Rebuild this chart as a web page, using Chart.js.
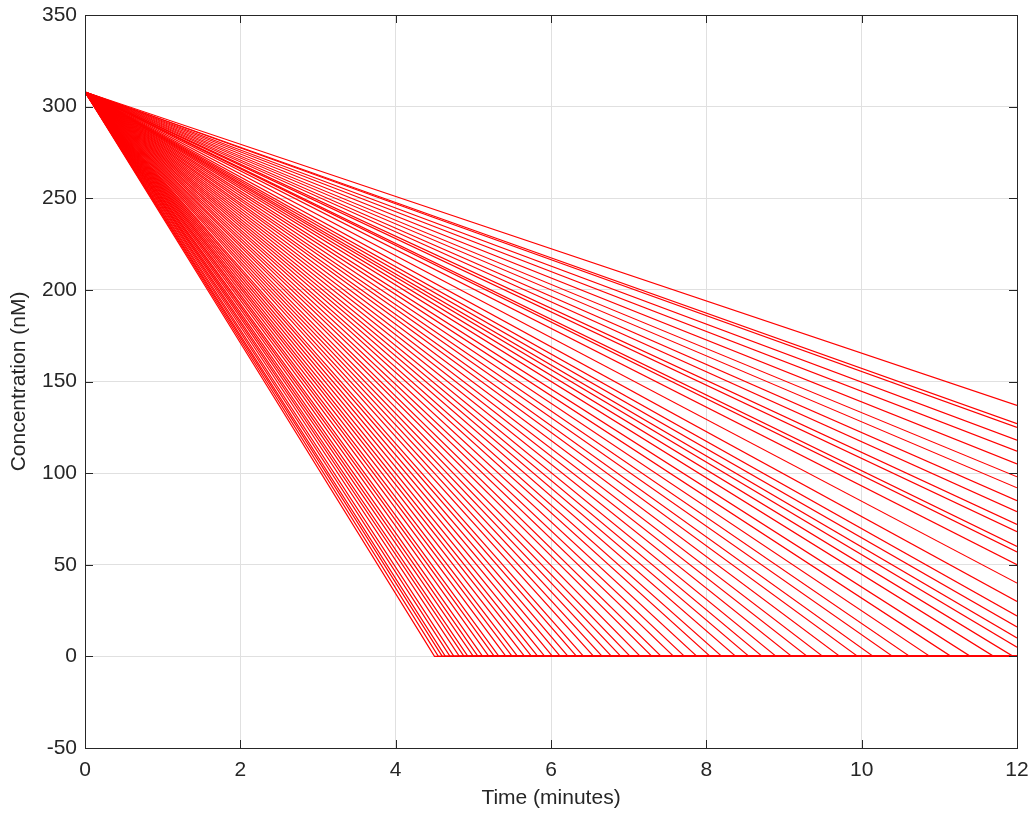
<!DOCTYPE html>
<html>
<head>
<meta charset="utf-8">
<script src="https://cdn.jsdelivr.net/npm/chart.js@4.4.1/dist/chart.umd.min.js"></script>
<style>
    html, body { margin: 0; padding: 0; background: #fff; }
    #wrap { width: 1032px; height: 819px; }
</style>
</head>
<body>
<div id="wrap"><canvas id="concChart" width="1032" height="819"></canvas></div>
<script>
// Starting concentration (nM) shared by every curve
const startConc = 308;
const endTime = 12;

// Curves that reach zero before 12 min: time (minutes) they hit 0
const zeroTimes = [
    4.50, 4.55, 4.60, 4.64, 4.70, 4.75, 4.82, 4.88, 4.93, 5.00,
    5.06, 5.12, 5.20, 5.27, 5.33, 5.42, 5.50, 5.57, 5.66, 5.75,
    5.83, 5.92, 6.02, 6.12, 6.22, 6.33, 6.42, 6.55, 6.66, 6.78,
    6.90, 7.02, 7.15, 7.30, 7.42, 7.58, 7.72, 7.88, 8.05, 8.20,
    8.38, 8.55, 8.72, 8.90, 9.10, 9.30, 9.50, 9.72, 9.95, 10.15,
    10.40, 10.62, 10.88, 11.15, 11.40, 11.70, 11.95
];

// Curves still above zero at 12 min: concentration (nM) at 12 min
const endValues = [
    137, 127, 125, 118, 112, 105, 98, 92, 85, 79,
    72, 68, 60, 57, 50, 40, 30, 22, 16, 10, 5
];

const xTicks = [0, 2, 4, 6, 8, 10, 12];
const yTicks = [-50, 0, 50, 100, 150, 200, 250, 300, 350];

const lineColor = '#ff0000';
const axisColor = '#262626';

function makeDataset(points) {
    return {
        data: points,
        borderColor: lineColor,
        borderWidth: 1.2,
        pointRadius: 0,
        fill: false,
        tension: 0
    };
}

const datasets = [];
zeroTimes.forEach(t => {
    datasets.push(makeDataset([
        { x: 0, y: startConc },
        { x: t, y: 0 },
        { x: endTime, y: 0 }
    ]));
});
endValues.forEach(v => {
    datasets.push(makeDataset([
        { x: 0, y: startConc },
        { x: endTime, y: v }
    ]));
});

// box around plot with inward tick marks (matlab style)
const boxPlugin = {
    id: 'boxPlugin',
    afterDraw(chart) {
        const ctx = chart.ctx;
        const a = chart.chartArea;
        const xs = chart.scales.x;
        const ys = chart.scales.y;
        const len = 8;
        ctx.save();
        ctx.strokeStyle = axisColor;
        ctx.lineWidth = 1;
        ctx.beginPath();
        xTicks.forEach(v => {
            const px = Math.round(xs.getPixelForValue(v)) + 0.5;
            ctx.moveTo(px, a.bottom);
            ctx.lineTo(px, a.bottom - len);
            ctx.moveTo(px, a.top);
            ctx.lineTo(px, a.top + len);
        });
        yTicks.forEach(v => {
            const py = Math.round(ys.getPixelForValue(v)) + 0.5;
            ctx.moveTo(a.left, py);
            ctx.lineTo(a.left + len, py);
            ctx.moveTo(a.right, py);
            ctx.lineTo(a.right - len, py);
        });
        ctx.stroke();
        ctx.strokeRect(Math.round(a.left) + 0.5, Math.round(a.top) + 0.5,
            Math.round(a.right - a.left), Math.round(a.bottom - a.top));
        ctx.restore();
    }
};

const fontFamily = '"Liberation Sans", Arial, Helvetica, sans-serif';

new Chart(document.getElementById('concChart').getContext('2d'), {
    type: 'line',
    data: { datasets: datasets },
    options: {
        responsive: false,
        animation: false,
        layout: { padding: { top: 15, right: 15, left: 0, bottom: 0 } },
        plugins: {
            legend: { display: false },
            tooltip: { enabled: false }
        },
        scales: {
            x: {
                type: 'linear',
                min: 0,
                max: 12,
                afterBuildTicks: scale => { scale.ticks = xTicks.map(v => ({ value: v })); },
                afterFit: scale => {
                    scale.height = 71;
                    // labels may hang past the plot edge, no extra room
                    scale.paddingLeft = 0;
                    scale.paddingRight = 0;
                },
                grid: { color: '#e0e0e0', drawTicks: false },
                border: { display: false },
                ticks: {
                    color: axisColor,
                    padding: 10,
                    font: { family: fontFamily, size: 21 }
                },
                title: {
                    display: true,
                    text: 'Time (minutes)',
                    color: axisColor,
                    padding: { top: 0, bottom: 8 },
                    font: { family: fontFamily, size: 21 }
                }
            },
            y: {
                type: 'linear',
                min: -50,
                max: 350,
                afterBuildTicks: scale => { scale.ticks = yTicks.map(v => ({ value: v })); },
                afterFit: scale => {
                    scale.width = 85;
                    scale.paddingTop = 0;
                    scale.paddingBottom = 0;
                },
                grid: { color: '#e0e0e0', drawTicks: false },
                border: { display: false },
                ticks: {
                    color: axisColor,
                    padding: 8,
                    font: { family: fontFamily, size: 21 }
                },
                title: {
                    display: true,
                    text: 'Concentration (nM)',
                    color: axisColor,
                    padding: { top: 7, bottom: 0 },
                    font: { family: fontFamily, size: 21 }
                }
            }
        }
    },
    plugins: [boxPlugin]
});
</script>
</body>
</html>
